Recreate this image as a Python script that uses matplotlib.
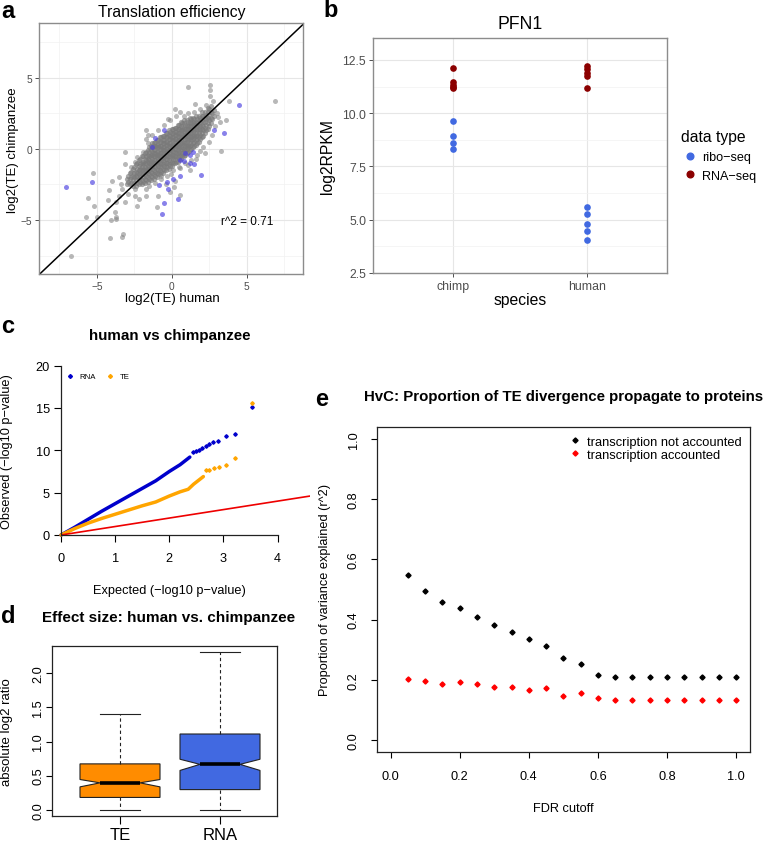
import matplotlib
matplotlib.use('Agg')
import matplotlib.pyplot as plt
from matplotlib.lines import Line2D

plt.rcParams['font.family'] = ['Liberation Sans', 'DejaVu Sans']

# ---------------- data ----------------
# a: log2(TE) human vs chimpanzee, dense core of the cloud (columns)
core_human = [-3.0, -2.9, -2.8, -2.7, -2.6, -2.5, -2.4, -2.3, -2.2, -2.1, -2.0, -1.9,
              -1.8, -1.7, -1.6, -1.5, -1.4, -1.3, -1.2, -1.1, -1.0, -0.9, -0.8, -0.7,
              -0.6, -0.5, -0.4, -0.3, -0.2, -0.1, 0.0, 0.1, 0.2, 0.3, 0.4, 0.5, 0.6,
              0.7, 0.8, 0.9, 1.0, 1.1, 1.2, 1.3, 1.4, 1.5, 1.6, 1.7, 1.8, 1.9, 2.0,
              2.1, 2.2, 2.3, 2.4, 2.5, 2.6, 2.7, 2.8]
core_chimp = [
    [-2.5, -2.1],
    [-2.3, -1.9],
    [-2.5, -2.1, -1.7],
    [-2.4, -2.0, -1.6],
    [-2.6, -2.2, -1.9, -1.4],
    [-2.4, -2.0, -1.7, -1.3],
    [-2.6, -2.2, -1.9, -1.6, -1.1],
    [-2.4, -2.0, -1.7, -1.4, -1.0],
    [-2.5, -2.1, -1.8, -1.5, -1.2, -0.8],
    [-2.3, -2.0, -1.7, -1.4, -1.1, -0.7],
    [-2.5, -2.2, -1.8, -1.5, -1.3, -1.0, -0.5],
    [-2.3, -2.0, -1.7, -1.4, -1.1, -0.9, -0.5],
    [-2.4, -2.1, -1.8, -1.5, -1.3, -1.0, -0.7, -0.3],
    [-2.2, -1.9, -1.6, -1.4, -1.1, -0.8, -0.5, -0.2],
    [-2.3, -2.0, -1.7, -1.4, -1.2, -0.9, -0.7, -0.4, -0.1],
    [-2.1, -1.8, -1.5, -1.3, -1.0, -0.8, -0.5, -0.2, 0.1],
    [-2.2, -1.9, -1.6, -1.3, -1.1, -0.9, -0.6, -0.4, -0.1, 0.2],
    [-2.0, -1.7, -1.4, -1.2, -0.9, -0.7, -0.4, -0.2, 0.1, 0.4],
    [-2.1, -1.8, -1.5, -1.2, -1.0, -0.8, -0.5, -0.3, -0.1, 0.2, 0.4],
    [-1.9, -1.6, -1.3, -1.0, -0.8, -0.5, -0.3, 0.0, 0.2, 0.5],
    [-2.0, -1.7, -1.4, -1.1, -0.9, -0.6, -0.4, -0.2, 0.1, 0.3, 0.6],
    [-1.8, -1.5, -1.2, -0.9, -0.7, -0.4, -0.2, 0.1, 0.3, 0.6],
    [-1.8, -1.5, -1.2, -1.0, -0.7, -0.5, -0.3, 0.0, 0.2, 0.5, 0.8],
    [-1.6, -1.3, -1.1, -0.8, -0.5, -0.3, 0.0, 0.2, 0.5, 0.8],
    [-1.7, -1.4, -1.1, -0.8, -0.6, -0.3, -0.1, 0.1, 0.4, 0.6, 0.9],
    [-1.5, -1.2, -0.9, -0.6, -0.4, -0.1, 0.1, 0.4, 0.6, 0.9],
    [-1.5, -1.2, -1.0, -0.7, -0.4, -0.2, 0.0, 0.3, 0.5, 0.8, 1.1],
    [-1.3, -1.0, -0.7, -0.5, -0.2, 0.0, 0.3, 0.5, 0.8, 1.1],
    [-1.4, -1.1, -0.8, -0.5, -0.3, -0.1, 0.2, 0.4, 0.7, 1.0, 1.3],
    [-1.2, -0.9, -0.6, -0.3, -0.1, 0.2, 0.4, 0.7, 0.9, 1.2],
    [-1.2, -0.9, -0.6, -0.4, -0.1, 0.1, 0.3, 0.6, 0.8, 1.1, 1.4],
    [-1.0, -0.7, -0.4, -0.2, 0.1, 0.3, 0.6, 0.8, 1.1, 1.4],
    [-1.0, -0.7, -0.5, -0.2, 0.0, 0.3, 0.5, 0.7, 1.0, 1.2, 1.5],
    [-0.9, -0.6, -0.3, 0.0, 0.2, 0.5, 0.7, 1.0, 1.2, 1.5],
    [-0.9, -0.6, -0.3, -0.1, 0.2, 0.4, 0.6, 0.9, 1.1, 1.4, 1.7],
    [-0.7, -0.4, -0.2, 0.1, 0.3, 0.6, 0.8, 1.1, 1.4, 1.7],
    [-0.7, -0.4, -0.1, 0.1, 0.4, 0.6, 0.8, 1.1, 1.3, 1.6, 1.9],
    [-0.5, -0.3, 0.0, 0.3, 0.5, 0.8, 1.0, 1.3, 1.5, 1.8],
    [-0.5, -0.2, 0.0, 0.3, 0.5, 0.8, 1.0, 1.2, 1.5, 1.8, 2.0],
    [-0.4, -0.1, 0.2, 0.4, 0.7, 0.9, 1.2, 1.4, 1.7],
    [-0.3, 0.0, 0.2, 0.5, 0.7, 0.9, 1.2, 1.4, 1.7, 2.0],
    [-0.2, 0.1, 0.3, 0.6, 0.9, 1.1, 1.4, 1.6, 1.9],
    [-0.1, 0.2, 0.4, 0.7, 0.9, 1.1, 1.4, 1.6, 1.9, 2.2],
    [0.0, 0.3, 0.6, 0.8, 1.1, 1.3, 1.6, 1.8, 2.1],
    [0.1, 0.4, 0.7, 0.9, 1.2, 1.4, 1.7, 1.9, 2.2],
    [0.2, 0.5, 0.8, 1.0, 1.3, 1.6, 1.8, 2.1],
    [0.3, 0.6, 0.9, 1.1, 1.4, 1.7, 1.9, 2.3],
    [0.4, 0.7, 1.0, 1.3, 1.6, 1.8, 2.1],
    [0.5, 0.8, 1.1, 1.4, 1.7, 2.0, 2.3],
    [0.7, 1.0, 1.3, 1.6, 1.9, 2.2],
    [0.8, 1.1, 1.4, 1.7, 2.0, 2.3, 2.6],
    [0.9, 1.3, 1.6, 1.9, 2.3],
    [1.1, 1.5, 1.9, 2.2, 2.6],
    [1.3, 1.7, 2.1, 2.4],
    [1.4, 1.8, 2.2, 2.6, 2.9],
    [1.6, 2.0, 2.4, 2.8],
    [1.8, 2.2, 2.6, 3.0],
    [2.1, 2.5],
    [2.3, 2.7],
]
# scattered gray genes outside the core
gray_human = [1.09, 2.53, 2.58, 2.53, 6.87, 2.76, 3.8, 0.2, 0.53, 3.64, 3.2, 3.09, 1.53, -0.24,
              -1.71, -1.75, -3.13, -3.09, -2.42, 3.31, 1.87, 1.64, 1.09, 0.53, -0.02, -0.69,
              -0.36, 0.2, -0.13, 0.58, -0.91, 0.13, -0.98, -5.27, -5.58, -5.73, -4.98, -5.2,
              -4.13, -3.35, -3.27, -6.71, -4.02, -3.75, -4.24, -3.75, -3.53, -3.09, -4.2, -2.47,
              -2.31, -2.2, -3.31, -3.98, -3.53, -1.75, -1.75, -2.42, -3.69, -3.8,
              -1.9, -1.6, -1.5, -1.3, -1.1, -0.9, -0.7, -0.5, -0.3, -0.1, 0.1, 0.3, 0.5, 0.8,
              0.9, 1.1, 1.3, 1.5, 1.7, 1.9, 2.1, 2.3, 2.5, 2.7, 2.9, 3.0, -2.7, -2.9, -3.4,
              2.2, -2.3, 1.2, -1.6]
gray_chimp = [4.32, 4.50, 4.11, 3.75, 3.40, 3.40, 3.40, 2.82, 2.58, 2.0, 1.88, 2.23, 3.17, 2.11,
              1.36, 0.7, -0.19, -1.06, -0.94, -0.14, -0.12, -0.7, -1.17, -1.36, -1.76, -1.88,
              -2.46, -2.23, -3.05, -3.24, -3.29, -2.7, -4.11, -1.71, -3.45, -4.77, -4.81, -3.99,
              -6.29, -6.22, -6.0, -7.51, -5.0, -4.81, -3.57, -3.75, -3.29, -3.76, -2.89, -2.82,
              -3.99, -3.52, -2.82, -2.23, -2.0, -2.82, -3.29, -3.29, -4.93, -4.46,
              -0.2, 0.4, -2.6, 1.0, -2.4, 1.3, -2.1, 1.7, -1.9, 2.0, -1.5, 2.3, -1.3, 2.3,
              -1.0, 2.5, -0.8, 2.6, -0.4, 2.8, 0.1, 3.1, 0.5, 1.0, 1.6, 2.5, -1.3, -3.2, -2.5,
              -0.3, -0.6, -1.5, 1.0]
# highlighted (blue) genes
blue_human = [-7.02, -5.31, 4.49, 3.51, 2.79, -0.55, -1.13, -1.29, 0.87, 1.42, 1.2, 0.53, 1.2,
              1.47, 0.8, 1.98, 0.58, 0.09, -0.31, -0.24, -0.82, 0.42, -0.49, -0.63]
blue_chimp = [-2.70, -2.36, 3.10, 1.09, 1.35, 1.35, 0.75, 0.12, -0.30, -0.19, -0.4, -0.75, -1.0,
              -1.06, -0.82, -1.81, -1.88, -2.11, -2.35, -2.82, -2.56, -3.50, -3.80, -4.58]

# b: PFN1 log2RPKM per species
species = ['chimp', 'human']
ribo_chimp = [9.64, 8.91, 8.59, 8.31]
ribo_human = [5.58, 5.27, 4.80, 4.45, 4.03]
rna_chimp = [12.14, 11.47, 11.34, 11.23, 11.16]
rna_human = [12.22, 12.06, 11.91, 11.75, 11.17]

# c: QQ plot, dense part and sparse tail
rna_exp = [0.0, 0.25, 0.5, 0.75, 1.0, 1.25, 1.5, 1.75, 2.0, 2.2, 2.38]
rna_obs = [0.0, 0.9, 1.85, 2.8, 3.7, 4.6, 5.5, 6.4, 7.5, 8.3, 9.2]
rna_tail_exp = [2.43, 2.49, 2.55, 2.61, 2.68, 2.74, 2.81, 2.90, 3.04, 3.21, 3.52]
rna_tail_obs = [9.76, 9.88, 10.04, 10.23, 10.47, 10.71, 10.94, 11.14, 11.73, 11.93, 15.16]
te_exp = [0.0, 0.25, 0.5, 0.75, 1.0, 1.25, 1.5, 1.75, 2.0, 2.2, 2.35, 2.45, 2.55, 2.63]
te_obs = [0.0, 0.75, 1.4, 1.95, 2.45, 2.95, 3.45, 3.9, 4.6, 5.1, 5.4, 6.0, 6.5, 6.9]
te_tail_exp = [2.68, 2.74, 2.82, 2.92, 3.04, 3.21, 3.52]
te_tail_obs = [7.68, 7.68, 7.91, 8.07, 8.23, 9.09, 15.6]

# d: absolute log2 ratio boxplots
box_names = ['TE', 'RNA']
box_whislo = [0.0, 0.0]
box_q1 = [0.18, 0.295]
box_med = [0.394, 0.665]
box_q3 = [0.672, 1.11]
box_whishi = [1.41, 2.31]
box_cilo = [0.335, 0.576]
box_cihi = [0.443, 0.74]
box_colors = ['#ff8c00', '#4169e1']

# e: proportion of variance explained vs FDR cutoff
fdr = [0.05, 0.10, 0.15, 0.20, 0.25, 0.30, 0.35, 0.40, 0.45, 0.50,
       0.55, 0.60, 0.65, 0.70, 0.75, 0.80, 0.85, 0.90, 0.95, 1.00]
r2_not = [0.549, 0.494, 0.460, 0.439, 0.408, 0.381, 0.359, 0.336, 0.314, 0.274,
          0.252, 0.215, 0.211, 0.211, 0.211, 0.211, 0.211, 0.211, 0.211, 0.211]
r2_acc = [0.203, 0.196, 0.185, 0.192, 0.188, 0.175, 0.175, 0.167, 0.173, 0.146,
          0.157, 0.141, 0.133, 0.133, 0.133, 0.133, 0.133, 0.133, 0.133, 0.133]

# ---------------- figure ----------------
W, H = 765.0, 845.0
fig = plt.figure(figsize=(W / 100, H / 100), dpi=100)


def rect(x0, y0, x1, y1):
    return [x0 / W, 1 - y1 / H, (x1 - x0) / W, (y1 - y0) / H]


def label(x, y, s, **kw):
    fig.text(x / W, 1 - y / H, s, **kw)


def gg_style(ax, tick_size):
    for s in ax.spines.values():
        s.set_color('#8c8c8c')
        s.set_linewidth(1.0)
    ax.grid(True, which='major', color='#e6e6e6', lw=0.8)
    ax.grid(True, which='minor', color='#f2f2f2', lw=0.5)
    ax.set_axisbelow(True)
    ax.tick_params(which='major', length=3, width=0.6, color='#333333',
                   labelcolor='#4d4d4d', labelsize=tick_size, pad=2)
    ax.tick_params(which='minor', length=0)


def r_frame(ax, color='#222222'):
    for s in ax.spines.values():
        s.set_color(color)
        s.set_linewidth(0.9)


# ----- a -----
ax_a = fig.add_axes(rect(39, 24, 303, 275))
gg_style(ax_a, 7.3)
ax_a.set_xlim(-8.85, 8.75)
ax_a.set_ylim(-8.8, 8.85)
ax_a.set_xticks([-5, 0, 5])
ax_a.set_yticks([-5, 0, 5])
ax_a.set_xticks([-7.5, -2.5, 2.5, 7.5], minor=True)
ax_a.set_yticks([-7.5, -2.5, 2.5, 7.5], minor=True)
core_x = [x for x, ys in zip(core_human, core_chimp) for _ in ys]
core_y = [y for ys in core_chimp for y in ys]
ax_a.scatter(core_x, core_y, s=14, color='#7a7a7a', alpha=0.65, lw=0)
ax_a.scatter(gray_human, gray_chimp, s=13, color='#7f7f7f', alpha=0.55, lw=0)
ax_a.scatter(blue_human, blue_chimp, s=13, color='#4a3fe0', alpha=0.65, lw=0)
ax_a.axline((0, 0), slope=1, color='black', lw=1.1)
ax_a.text(3.3, -5.05, 'r^2 = 0.71', fontsize=8.5, va='center')
label(1, 18, 'a', fontsize=17, fontweight='bold', va='baseline')
label(172, 17.5, 'Translation efficiency', ha='center', va='baseline', fontsize=11.3)
label(172, 302.5, 'log2(TE) human', ha='center', va='baseline', fontsize=9.5)
label(13, 150, 'log2(TE) chimpanzee', rotation=90, ha='center', va='center', fontsize=9.5)

# ----- b -----
ax_b = fig.add_axes(rect(373, 39, 667, 274))
gg_style(ax_b, 8.8)
ax_b.set_xlim(0.4, 2.6)
ax_b.set_ylim(2.5, 13.53)
ax_b.set_xticks([1, 2], species)
ax_b.set_yticks([2.5, 5, 7.5, 10, 12.5], ['2.5', '5.0', '7.5', '10.0', '12.5'])
ax_b.set_yticks([3.75, 6.25, 8.75, 11.25], minor=True)
ax_b.scatter([1] * len(ribo_chimp) + [2] * len(ribo_human), ribo_chimp + ribo_human,
             s=23, color='#4169e1', lw=0)
ax_b.scatter([1] * len(rna_chimp) + [2] * len(rna_human), rna_chimp + rna_human,
             s=23, color='#8b0000', lw=0)
hb = [Line2D([], [], marker='o', ls='', color='#4169e1', ms=4.8),
      Line2D([], [], marker='o', ls='', color='#8b0000', ms=4.8)]
ax_b.legend(hb, ['ribo\u2212seq', 'RNA\u2212seq'], title='data type', loc='upper left',
            bbox_to_anchor=(681 / W, 1 - 130 / H), bbox_transform=fig.transFigure,
            frameon=False, fontsize=9.1, title_fontsize=11.3, alignment='left',
            handlelength=1.35, handletextpad=0.33, labelspacing=0.55,
            borderpad=0, borderaxespad=0)
label(323, 17.3, 'b', fontsize=17, fontweight='bold', va='baseline')
label(520, 29.3, 'PFN1', ha='center', va='baseline', fontsize=12.7)
label(520, 305, 'species', ha='center', va='baseline', fontsize=11.3)
label(327.5, 156.5, 'log2RPKM', rotation=90, ha='center', va='center', fontsize=11.3)

# ----- c -----
ax_c = fig.add_axes(rect(61, 362.4, 310, 536))
ax_c.set_xlim(0, 4.6)
ax_c.set_ylim(0, 20.5)
for s in ['top', 'right']:
    ax_c.spines[s].set_visible(False)
for s in ['left', 'bottom']:
    ax_c.spines[s].set_color('#222222')
    ax_c.spines[s].set_linewidth(0.9)
ax_c.spines['left'].set_bounds(0, 20)
ax_c.spines['bottom'].set_bounds(0, 4)
ax_c.set_xticks([0, 1, 2, 3, 4])
ax_c.set_yticks([0, 5, 10, 15, 20])
ax_c.tick_params(axis='x', length=5, width=0.8, labelsize=9.2, pad=6.9)
ax_c.tick_params(axis='y', length=5, width=0.8, labelsize=9.2, pad=3)
ax_c.plot(rna_exp, rna_obs, color='#0000cc', lw=2.5, solid_capstyle='round', clip_on=False)
ax_c.plot(rna_tail_exp, rna_tail_obs, 'D', color='#0000cc', ms=1.8)
ax_c.plot(te_exp, te_obs, color='#ffa500', lw=2.5, solid_capstyle='round', clip_on=False)
ax_c.plot(te_tail_exp, te_tail_obs, 'D', color='#ffa500', ms=1.8)
ax_c.axline((0, 0), slope=1, color='#ee0000', lw=1.2)
hc = [Line2D([], [], marker='D', ls='', color='#0000cc', ms=2.0),
      Line2D([], [], marker='D', ls='', color='#ffa500', ms=2.0)]
ax_c.legend(hc, ['RNA', 'TE'], ncol=2, loc='upper left',
            bbox_to_anchor=(66.5 / W, 1 - 374 / H), bbox_transform=fig.transFigure,
            frameon=False, fontsize=5.6, handlelength=0.9, handletextpad=0.75,
            columnspacing=1.4, borderpad=0, borderaxespad=0)
label(1, 333.3, 'c', fontsize=17, fontweight='bold', va='baseline')
label(170, 340, 'human vs chimpanzee', ha='center', va='baseline', fontsize=10.9,
      fontweight='bold')
label(169.5, 594, 'Expected (\u2212log10 p\u2212value)', ha='center', va='baseline', fontsize=9.2)
label(7.5, 451.5, 'Observed (\u2212log10 p\u2212value)', rotation=90, ha='center',
      va='center', fontsize=9.2)

# ----- d -----
ax_d = fig.add_axes(rect(52, 647, 277, 817))
r_frame(ax_d)
stats = []
for i in range(len(box_names)):
    stats.append(dict(whislo=box_whislo[i], q1=box_q1[i], med=box_med[i], q3=box_q3[i],
                      whishi=box_whishi[i], cilo=box_cilo[i], cihi=box_cihi[i],
                      fliers=[], label=box_names[i]))
bp = ax_d.bxp(stats, positions=[1, 2], widths=0.8, shownotches=True, patch_artist=True,
              showfliers=False,
              boxprops=dict(edgecolor='#222222', linewidth=0.8),
              medianprops=dict(color='black', linewidth=2.6),
              whiskerprops=dict(color='#222222', linewidth=0.8, linestyle=(0, (3, 2.5))),
              capprops=dict(color='#222222', linewidth=0.8))
for patch, c in zip(bp['boxes'], box_colors):
    patch.set_facecolor(c)
ax_d.set_xlim(0.32, 2.57)
ax_d.set_ylim(-0.092, 2.40)
ax_d.set_yticks([0, 0.5, 1.0, 1.5, 2.0], ['0.0', '0.5', '1.0', '1.5', '2.0'])
ax_d.tick_params(axis='y', length=4, width=0.8, labelsize=9.2, pad=1.5, labelrotation=90)
ax_d.tick_params(axis='x', length=6, width=0.8, labelsize=12, pad=1.8)
for t in ax_d.get_yticklabels():
    t.set_va('center')
label(1, 623.3, 'd', fontsize=17, fontweight='bold', va='baseline')
label(169, 621.7, 'Effect size: human vs. chimpanzee', ha='center', va='baseline',
      fontsize=11, fontweight='bold')
label(7.5, 732.5, 'absolute log2 ratio', rotation=90, ha='center', va='center', fontsize=9.5)

# ----- e -----
ax_e = fig.add_axes(rect(376.7, 427.7, 750, 753.3))
r_frame(ax_e)
ax_e.set_xlim(-0.04, 1.04)
ax_e.set_ylim(-0.04, 1.04)
ticks = [0.0, 0.2, 0.4, 0.6, 0.8, 1.0]
ax_e.set_xticks(ticks, ['%.1f' % t for t in ticks])
ax_e.set_yticks(ticks, ['%.1f' % t for t in ticks])
ax_e.tick_params(axis='x', length=4.3, width=0.8, labelsize=9.2, pad=8.1)
ax_e.tick_params(axis='y', length=4.3, width=0.8, labelsize=9.2, pad=7.9, labelrotation=90)
for t in ax_e.get_yticklabels():
    t.set_va('center')
ax_e.plot(fdr, r2_not, 'D', color='black', ms=2.6)
ax_e.plot(fdr, r2_acc, 'D', color='#ff0000', ms=2.6)
he = [Line2D([], [], marker='D', ls='', color='black', ms=2.6),
      Line2D([], [], marker='D', ls='', color='#ff0000', ms=2.6)]
ax_e.legend(he, ['transcription not accounted', 'transcription accounted'], loc='upper left',
            bbox_to_anchor=(569.9 / W, 1 - 436.5 / H), bbox_transform=fig.transFigure,
            frameon=False, fontsize=9.3, handlelength=0.8, handletextpad=0.54,
            labelspacing=0.1, borderpad=0, borderaxespad=0)
label(315, 406, 'e', fontsize=17, fontweight='bold', va='baseline')
label(563.3, 400.8, 'HvC: Proportion of TE divergence propagate to proteins', ha='center',
      va='baseline', fontsize=10.8, fontweight='bold')
label(563.3, 812.5, 'FDR cutoff', ha='center', va='baseline', fontsize=9.2)
label(325, 590, 'Proportion of variance explained (r^2)', rotation=90, ha='center',
      va='center', fontsize=9.2)

fig.savefig('out.png', dpi=100)
